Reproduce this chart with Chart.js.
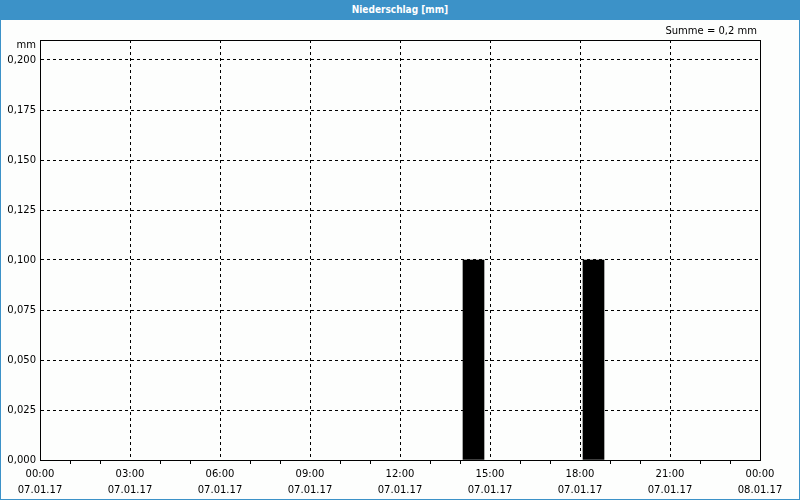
<!DOCTYPE html>
<html>
<head>
<meta charset="utf-8">
<script src="https://cdn.jsdelivr.net/npm/chart.js@4"></script>
<style>
	html, body { margin: 0; padding: 0; background: #fdfefd; }
	#page { position: relative; width: 800px; height: 500px; overflow: hidden; }
	#titlebar {
		position: absolute; left: 0; top: 0; width: 800px; height: 20px;
		background: #3c92c8; color: #fff; text-align: center;
		font: bold 10px "DejaVu Sans Condensed", "DejaVu Sans", sans-serif; line-height: 20px;
	}
	#frame {
		position: absolute; left: 0; top: 0; width: 800px; height: 500px;
		box-sizing: border-box; border: 1px solid #3c92c8; pointer-events: none;
	}
	#wrap { position: absolute; left: 0; top: 20px; width: 800px; height: 480px; }
</style>
</head>
<body>
<div id="page">
	<div id="titlebar">Niederschlag [mm]</div>
	<div id="wrap"><canvas id="chart"></canvas></div>
	<div id="frame"></div>
</div>
<script>
// Niederschlag, Stundenwerte (Zeitpunkt in Stunden ab 07.01.17 00:00)
const hours = [14.45, 18.45];
const amounts = [0.1, 0.1];
const summeText = 'Summe = 0,2 mm';
const unitText = 'mm';
const dateStart = '07.01.17';
const dateEnd = '08.01.17';

const FONT = '"DejaVu Sans", sans-serif';

const extras = {
	id: 'extras',
	afterDraw(chart) {
		const {ctx, chartArea: a} = chart;
		ctx.save();
		ctx.strokeStyle = '#000';
		ctx.lineWidth = 1;
		ctx.strokeRect(Math.round(a.left) + 0.5, Math.round(a.top) + 0.5,
			Math.round(a.right - a.left), Math.round(a.bottom - a.top));
		ctx.fillStyle = '#000';
		ctx.font = '10px ' + FONT;
		ctx.textAlign = 'right';
		ctx.textBaseline = 'middle';
		ctx.fillText(summeText, 757, 11);
		ctx.fillText(unitText, 36, 25);
		ctx.restore();
	}
};

new Chart(document.getElementById('chart'), {
	type: 'bar',
	data: {
		datasets: [{
			data: hours.map((h, i) => ({x: h, y: amounts[i]})),
			backgroundColor: '#000',
			borderWidth: 0,
			barThickness: 21
		}]
	},
	options: {
		responsive: true,
		maintainAspectRatio: false,
		animation: false,
		layout: { padding: { top: 20, right: 40, left: 0, bottom: 0 } },
		plugins: { legend: { display: false }, tooltip: { enabled: false } },
		scales: {
			x: {
				type: 'linear',
				min: 0,
				max: 24,
				offset: false,
				afterFit: s => { s.height = 40; },
				ticks: {
					stepSize: 1,
					autoSkip: false,
					maxRotation: 0,
					padding: 2,
					color: '#000',
					font: { family: FONT, size: 10, lineHeight: 1.6 },
					callback: v => {
						if (v % 3 !== 0) return '';
						const hh = String(v % 24).padStart(2, '0') + ':00';
						return [hh, v === 24 ? dateEnd : dateStart];
					}
				},
				grid: {
					offset: false,
					color: c => (c.tick && c.tick.value % 3 === 0) ? '#000' : 'rgba(0,0,0,0)',
					tickColor: c => (c.tick && c.tick.value % 3 === 0) ? 'rgba(0,0,0,0)' : '#000',
					tickLength: 4,
					tickBorderDash: []
				},
				border: { color: '#000', width: 1, dash: [3, 3] }
			},
			y: {
				min: 0,
				max: 0.21,
				afterFit: s => { s.width = 40; },
				ticks: {
					stepSize: 0.025,
					padding: 4,
					color: '#000',
					font: { family: FONT, size: 10 },
					callback: v => v > 0.2001 ? '' : v.toFixed(3).replace('.', ',')
				},
				grid: {
					color: '#000',
					drawTicks: false
				},
				border: { color: '#000', width: 1, dash: [3, 3] }
			}
		}
	},
	plugins: [extras]
});
</script>
</body>
</html>
